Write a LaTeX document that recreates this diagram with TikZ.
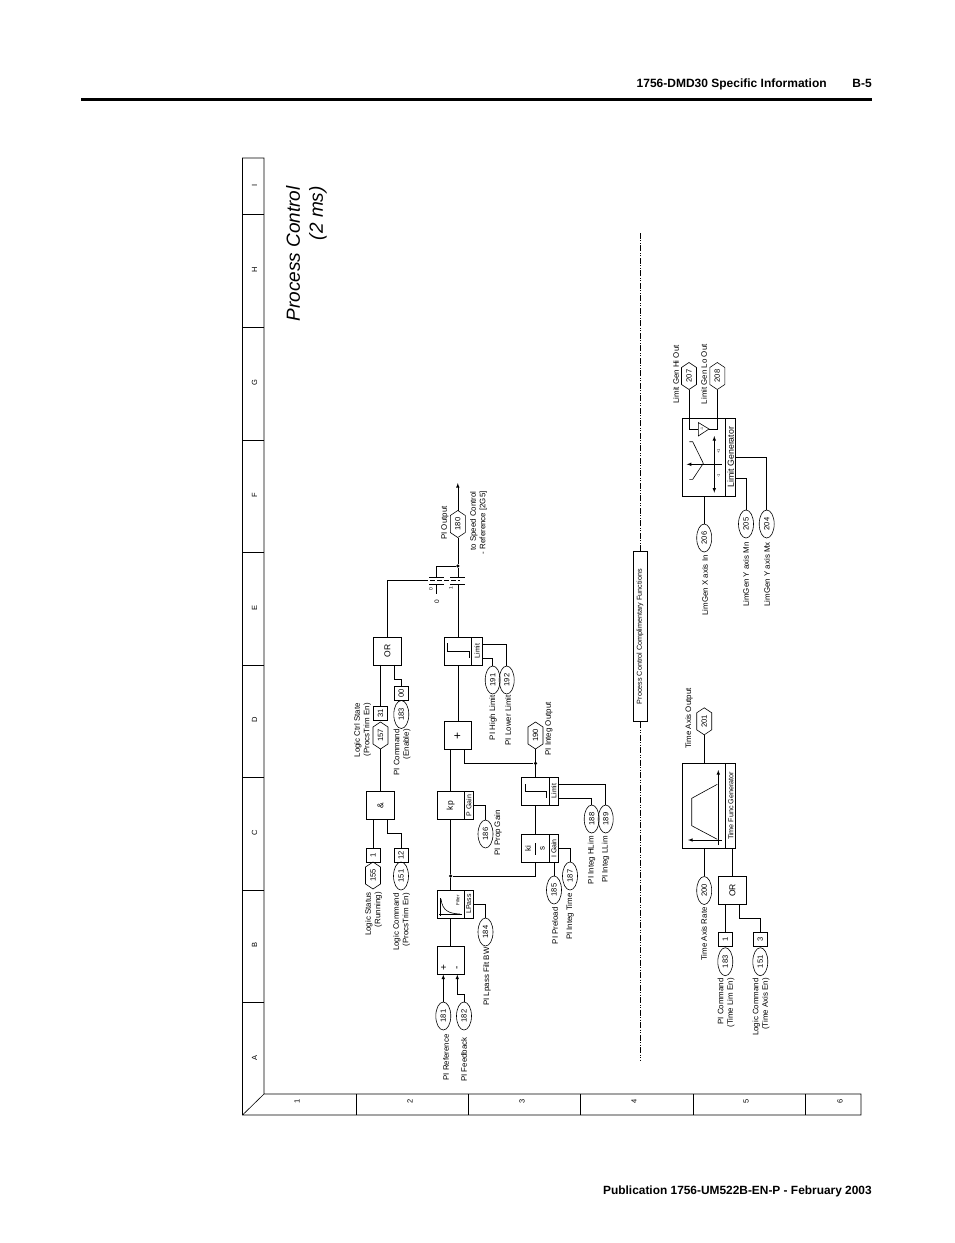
\documentclass[tikz,border=0pt]{standalone}
\usepackage{fontspec}
\usepackage{graphicx}
\setmainfont{Liberation Sans}
\usetikzlibrary{shapes.geometric}
\newcommand{\rt}[1]{\rotatebox{90}{#1}}
\newdimen\hexL \newdimen\hexR \newdimen\hexT \newdimen\hexB \newdimen\hexM \newdimen\hexU \newdimen\hexD
\makeatletter
\pgfdeclareshape{hexnode}{
  \inheritsavedanchors[from=rectangle]
  \inheritanchorborder[from=rectangle]
  \inheritanchor[from=rectangle]{center}
  \inheritanchor[from=rectangle]{north}
  \inheritanchor[from=rectangle]{south}
  \inheritanchor[from=rectangle]{east}
  \inheritanchor[from=rectangle]{west}
  \backgroundpath{
    \southwest \hexL=\pgf@x \hexB=\pgf@y
    \northeast \hexR=\pgf@x \hexT=\pgf@y
    \hexM=.5\hexL \advance\hexM by .5\hexR
    \hexU=\hexT \advance\hexU by -5pt
    \hexD=\hexB \advance\hexD by 5pt
    \pgfpathmoveto{\pgfqpoint{\hexM}{\hexT}}
    \pgfpathlineto{\pgfqpoint{\hexR}{\hexU}}
    \pgfpathlineto{\pgfqpoint{\hexR}{\hexD}}
    \pgfpathlineto{\pgfqpoint{\hexM}{\hexB}}
    \pgfpathlineto{\pgfqpoint{\hexL}{\hexD}}
    \pgfpathlineto{\pgfqpoint{\hexL}{\hexU}}
    \pgfpathclose
  }
}
\makeatother
\tikzset{
  mainbox/.style={shape=rectangle,draw=black,inner sep=0,minimum width=27.6,minimum height=27.6,font=\fontsize{8.5}{9}\selectfont},
  sidebox/.style={shape=rectangle,draw=black,inner sep=0,minimum width=9,minimum height=27.6,font=\fontsize{7}{7}\selectfont},
  tag/.style={shape=rectangle,draw=black,inner sep=0,minimum width=14,minimum height=14,font=\fontsize{7.6}{8}\selectfont},
  oval/.style={shape=ellipse,draw=black,inner sep=0,minimum width=15,minimum height=28,font=\fontsize{7.6}{8}\selectfont},
  hexa/.style={shape=hexnode,draw=black,inner sep=0,outer sep=0,minimum width=15,minimum height=27,font=\fontsize{7.6}{8}\selectfont},
  lbl/.style={rotate=90,anchor=east,align=right,inner sep=0,font=\fontsize{7.9}{9.5}\selectfont},
  plain/.style={rotate=90,inner sep=0,font=\fontsize{7.5}{8}\selectfont},
  dot/.style={shape=circle,fill=black,inner sep=0,minimum size=3.5},
  vh/.style={to path={-- ++(0,#1) -| (\tikztotarget)}},
  hfirst/.style={to path={-| (\tikztotarget)}},
  vfirst/.style={to path={|- (\tikztotarget)}}
}
\begin{document}
\begin{tikzpicture}[x=1pt,y=-1pt,line width=.6pt]
  \useasboundingbox (0,0) rectangle (954,1243);

  % page head and foot
  \node[anchor=base east,inner sep=0,font=\fontsize{12}{14}\bfseries] (headtext) at (827,87) {1756-DMD30 Specific Information};
  \node[anchor=base east,inner sep=0,font=\fontsize{12}{14}\bfseries] (headpage) at (872,87) {B-5};
  \node[anchor=base east,inner sep=0,font=\fontsize{11.9}{14}\bfseries] (foottext) at (872,1194) {Publication 1756-UM522B-EN-P - February 2003};
  \draw[line width=3pt] (81,99) -- (872,99);

  % sheet frame
  \draw (264,1094) -- (264,158) -- (242.5,158) -- (242.5,1115) -- (861,1115) -- (861,1094) -- (264,1094) -- (242.5,1115);
  \foreach \ypos in {214,327,440,552,665,777,890,1002}
    \draw (242.5,\ypos) -- (264,\ypos);
  \foreach \xpos in {356,468,580,693,805}
    \draw (\xpos,1094) -- (\xpos,1115);
  \foreach \ltr/\ypos in {I/185,H/270,G/383,F/495,E/608,D/720,C/833,B/945,A/1058}
    \node[plain] (row\ltr) at (254.5,\ypos) {\ltr};
  \foreach \num/\xpos in {1/297,2/410,3/522,4/634,5/746,6/840}
    \node[plain] (col\num) at (\xpos,1101) {\num};

  \node[rotate=90,anchor=east,align=right,inner sep=0,font=\fontsize{19}{23}\selectfont\itshape] (title) at (306.5,186) {Process Control\\(2 ms)};

  % enable logic
  \node[mainbox] (and) at (380.5,805.5) {\rt{\&}};
  \node[tag] (b1) at (373,855) {\rt{1}};
  \node[hexa] (h155) at (373,875.5) {\rt{155}};
  \node[tag] (b12) at (401,855) {\rt{12}};
  \node[oval] (e151) at (401,876) {\rt{151}};
  \node[mainbox] (orE) at (387.5,651) {\rt{OR}};
  \node[tag] (b31) at (380.5,713.7) {\rt{31}};
  \node[hexa] (h157) at (380.5,735.5) {\rt{157}};
  \node[tag] (b00) at (401.3,693) {\rt{00}};
  \node[oval] (e183) at (401.3,714.5) {\rt{183}};

  \coordinate (andA) at (373,819.3);
  \coordinate (andB) at (387.3,819.3);
  \coordinate (orA) at (380.5,664.8);
  \coordinate (orB) at (394.3,664.8);
  \path (andA) edge (b1.north);
  \path (andB) edge[vh=14] (b12.north);
  \path (h157.south) edge (and.north);
  \path (orA) edge (b31.north);
  \path (orB) edge[vh=14.5] (b00.north);

  % PI path
  \node[mainbox] (sum) at (450.7,960.5) {};
  \node[plain,font=\fontsize{10}{10}\selectfont] (sumP) at (444,968) {+};
  \node[plain,font=\fontsize{10}{10}\selectfont] (sumM) at (458,968) {-};
  \node[mainbox] (filt) at (450.7,904) {};
  \node[sidebox] (filtS) at (468.8,904) {\rt{LPass}};
  \node[plain,font=\fontsize{4.5}{5}\selectfont] (filtT) at (457.7,900) {Filter};
  \node[mainbox] (kp) at (450.7,805.5) {\rt{kp}};
  \node[sidebox] (kpS) at (468.8,805.5) {\rt{P Gain}};
  \node[mainbox,font=\fontsize{12}{12}\selectfont] (plus) at (457.8,735.5) {\rt{+}};
  \node[mainbox] (lim) at (457.8,651) {};
  \node[sidebox,minimum width=10.6] (limS) at (477,651) {\rt{Limit}};
  \node[dot] (jct) at (457.8,566) {};
  \node[dot] (jctI) at (535.5,763.3) {};
  \node[dot] (jctP) at (450.7,876) {};
  \node[hexa] (h180) at (457.8,524) {\rt{180}};
  \node[hexa] (h190) at (535.5,735.5) {\rt{190}};
  \node[mainbox] (ki) at (535.5,848.5) {};
  \node[sidebox] (kiS) at (553.8,848.5) {\rt{I Gain}};
  \node[plain,font=\fontsize{8}{8}\selectfont] (kiT) at (528,848.5) {ki};
  \node[plain,font=\fontsize{8}{8}\selectfont] (kiB) at (542.5,848.5) {s};
  \node[mainbox] (limI) at (535.5,791) {};
  \node[sidebox] (limIS) at (553.8,791) {\rt{Limit}};
  \node[oval] (e181) at (443.3,1016) {\rt{181}};
  \node[oval] (e182) at (464,1016) {\rt{182}};
  \node[oval] (e184) at (485.5,932) {\rt{184}};
  \node[oval] (e186) at (485.5,834) {\rt{186}};
  \node[oval] (e185) at (554,890) {\rt{185}};
  \node[oval] (e187) at (570,876) {\rt{187}};
  \node[oval] (e188) at (591.7,819) {\rt{188}};
  \node[oval] (e189) at (605.7,819) {\rt{189}};
  \node[oval] (e191) at (492.7,680) {\rt{191}};
  \node[oval] (e192) at (506.7,680) {\rt{192}};

  \coordinate (sumA) at (443.3,974.5);
  \coordinate (sumB) at (457.3,974.5);
  \coordinate (plusA) at (450.7,749.3);
  \coordinate (plusB) at (464.3,749.3);
  \coordinate (kiC) at (554,862.3);
  \coordinate (limIa) at (558.3,798);
  \coordinate (limIb) at (558.3,784);
  \coordinate (limSa) at (482.3,658.3);
  \coordinate (limSb) at (482.3,644.3);
  \coordinate (outEnd) at (457.8,483);
  \coordinate (c1low) at (457.8,584);
  \coordinate (c1up) at (457.8,577.3);
  \coordinate (c0up) at (436.7,577.3);
  \coordinate (c0low) at (436.7,584);
  \coordinate (c0end) at (436.7,594);
  \coordinate (ctrlA) at (423,580.6);
  \coordinate (ctrlB) at (460,580.6);

  \path [-latex] (e181.north) edge (sumA);
  \path [-latex] (e182.north) edge[vh=-7] (sumB);
  \path (sum.north) edge (filt.south);
  \path (filt.north) edge (jctP);
  \path (jctP) edge (kp.south);
  \path (jctP) edge[hfirst] (ki.south);
  \path (kp.north) edge (plusA);
  \path (plusB) edge[vfirst] (jctI);
  \path (plus.north) edge (lim.south);
  \path (h190.south) edge (limI.north);
  \path (limI.south) edge (ki.north);
  \path (lim.north) edge (c1low);
  \path (c1up) edge (jct);
  \path (jct) edge (h180.south);
  \path [-latex] (h180.north) edge (outEnd);
  \path (jct) edge[hfirst] (c0up);
  \path (c0low) edge (c0end);
  \path (orE.north) edge[vfirst] (ctrlA);
  \draw[dash pattern=on 5pt off 2pt] (ctrlA) -- (ctrlB);
  \path (filtS.east) edge[hfirst] (e184.north);
  \path (kpS.east) edge[hfirst] (e186.north);
  \path (kiC) edge (e185.north);
  \path (kiS.east) edge[hfirst] (e187.north);
  \path (limIa) edge[hfirst] (e188.north);
  \path (limIb) edge[hfirst] (e189.north);
  \path (limSa) edge[hfirst] (e191.north);
  \path (limSb) edge[hfirst] (e192.north);

  % contact bars, block glyphs
  \draw (429.3,577.3) -- (444,577.3);
  \draw (429.3,584) -- (444,584);
  \draw (450,577.3) -- (465,577.3);
  \draw (450,584) -- (465,584);
  \node[plain,font=\fontsize{5}{6}\selectfont] (c0txt) at (431,589) {0};
  \node[plain,font=\fontsize{5}{6}\selectfont] (c1txt) at (451,588) {1};
  \node[plain,font=\fontsize{6.5}{7}\selectfont] (zero) at (437,602) {0};
  \draw (447.3,643) -- (447.3,651.7) -- (469.3,651.7) -- (469.3,658);
  \draw (525,784) -- (525,791.7) -- (546,791.7) -- (546,798);
  \draw (535.7,843) -- (535.7,855);
  \draw (440,898) -- (440,915.5);
  \draw (439,914.5) -- (461.7,914.5);
  \draw (441,899) .. controls (442.5,911) and (449,913.5) .. (460,914);

  % complementary functions
  \node[shape=rectangle,draw=black,inner sep=0,minimum width=14,minimum height=170,font=\fontsize{7.2}{8}\selectfont] (pcf) at (640,636.7) {\rt{Process Control Complimentary Functions}};
  \coordinate (dashTop) at (640,232);
  \coordinate (dashBot) at (640,1060);
  \draw[dash pattern=on 6pt off 1.5pt on 1pt off 1.5pt on 1pt off 1.5pt] (pcf.north) -- (dashTop);
  \draw[dash pattern=on 6pt off 1.5pt on 1pt off 1.5pt on 1pt off 1.5pt] (pcf.south) -- (dashBot);

  % limit generator
  \node[shape=rectangle,draw=black,minimum width=43,minimum height=77.7,inner sep=0] (lg) at (704.2,457.2) {};
  \node[shape=rectangle,draw=black,minimum width=10,minimum height=77.7,inner sep=0,font=\fontsize{8.8}{10}\selectfont] (lgS) at (730.7,457.2) {\rt{Limit Generator}};
  \node[hexa] (h207) at (689,376) {\rt{207}};
  \node[hexa] (h208) at (717.3,376) {\rt{208}};
  \node[oval] (e206) at (704.2,538) {\rt{206}};
  \node[oval] (e205) at (746,524) {\rt{205}};
  \node[oval] (e204) at (766.7,524) {\rt{204}};
  \coordinate (triIn) at (698.3,429);
  \coordinate (triOut) at (709,429);
  \coordinate (lgSa) at (735.7,478.3);
  \coordinate (lgSb) at (735.7,457.3);
  \path (h207.south) edge[vfirst] (triIn);
  \path (h208.south) edge[vfirst] (triOut);
  \path (lg.south) edge (e206.north);
  \path (lgSa) edge[hfirst] (e205.north);
  \path (lgSb) edge[hfirst] (e204.north);
  \draw (698.3,422.5) -- (698.3,436) -- (709,429) -- cycle;
  \node[plain,font=\fontsize{3.5}{4}\selectfont] (triTxt) at (702,429) {-1};
  \draw[latex-latex] (714.3,436) -- (714.3,492.7);
  \draw[-latex] (721.7,464.3) -- (686.7,464.3);
  \draw (689.3,441.7) -- (692.7,441.7) -- (703.3,463.3) -- (692.7,479.3) -- (689.3,479.3);
  \node[plain,font=\fontsize{4}{5}\selectfont] (plusOne) at (718.5,451.7) {+1};
  \node[plain,font=\fontsize{4}{5}\selectfont] (minusOne) at (718.5,475.7) {-1};

  % time function
  \node[shape=rectangle,draw=black,minimum width=43,minimum height=85,inner sep=0] (tf) at (704.2,805.8) {};
  \node[shape=rectangle,draw=black,minimum width=10,minimum height=85,inner sep=0,font=\fontsize{7.2}{8}\selectfont] (tfS) at (730.7,805.8) {\rt{Time Func Generator}};
  \node[hexa] (h201) at (704.2,721.3) {\rt{201}};
  \node[oval] (e200) at (704.2,890.5) {\rt{200}};
  \node[mainbox] (orT) at (732.5,890.5) {\rt{OR}};
  \node[tag] (bT1) at (725.3,939.7) {\rt{1}};
  \node[tag] (bT3) at (760.3,939.7) {\rt{3}};
  \node[oval] (e183T) at (725.3,961.7) {\rt{183}};
  \node[oval] (e151T) at (760.3,961.7) {\rt{151}};
  \coordinate (tfB) at (732.5,848.3);
  \coordinate (orTa) at (725.3,904.3);
  \coordinate (orTb) at (739,904.3);
  \path (tf.north) edge (h201.south);
  \path (tf.south) edge (e200.north);
  \path (tfB) edge (orT.north);
  \path (orTa) edge (bT1.north);
  \path (orTb) edge[vh=14] (bT3.north);
  \draw[-latex] (718.3,845) -- (718.3,770);
  \draw[-latex] (721.7,840) -- (688,840);
  \draw (717.3,839.3) -- (691.7,825.7) -- (691.7,798.3) -- (717.3,784.3);

  % labels
  \node[lbl] (lLS) at (373.5,892) {Logic Status\\(Running)};
  \node[lbl] (lLC) at (401.5,893) {Logic Command\\(ProcsTrim En)};
  \node[lbl] (lCS) at (362.7,703) {Logic Ctrl State\\(ProcsTrim En)};
  \node[lbl] (lPC) at (402,729) {PI Command\\(Enable)};
  \node[lbl] (lRef) at (446,1034) {PI Reference};
  \node[lbl] (lFb) at (464,1037) {PI Feedback};
  \node[lbl] (lBW) at (487,947) {PI Lpass Filt BW};
  \node[lbl] (lPG) at (498,810) {PI Prop Gain};
  \node[lbl] (lPre) at (555,907) {PI Preload};
  \node[lbl] (lIT) at (570,893) {PI Integ Time};
  \node[lbl] (lHL) at (591.7,836) {PI Integ HLim};
  \node[lbl] (lLL) at (605.7,836) {PI Integ LLim};
  \node[lbl] (lIO) at (549,702) {PI Integ Output};
  \node[lbl] (lHi) at (493,695) {PI High Limit};
  \node[lbl] (lLo) at (508,695) {PI Lower Limit};
  \node[lbl] (lOut) at (445,506) {PI Output};
  \node[lbl] (lTo) at (478.5,491) {to Speed Control\\- Reference [2G5]};
  \node[lbl] (lGH) at (676,345) {Limit Gen Hi Out};
  \node[lbl] (lGL) at (704,344) {Limit Gen Lo Out};
  \node[lbl] (lXI) at (705,555) {LimGen X axis In};
  \node[lbl] (lMn) at (746,542) {LimGen Y axis Mn};
  \node[lbl] (lMx) at (767,542) {LimGen Y axis Mx};
  \node[lbl] (lTO) at (689,688) {Time Axis Output};
  \node[lbl] (lTR) at (704,907) {Time Axis Rate};
  \node[lbl] (lTL) at (726,978) {PI Command\\(Time Lim En)};
  \node[lbl] (lTA) at (761,978) {Logic Command\\(Time Axis En)};
\end{tikzpicture}
\end{document}
